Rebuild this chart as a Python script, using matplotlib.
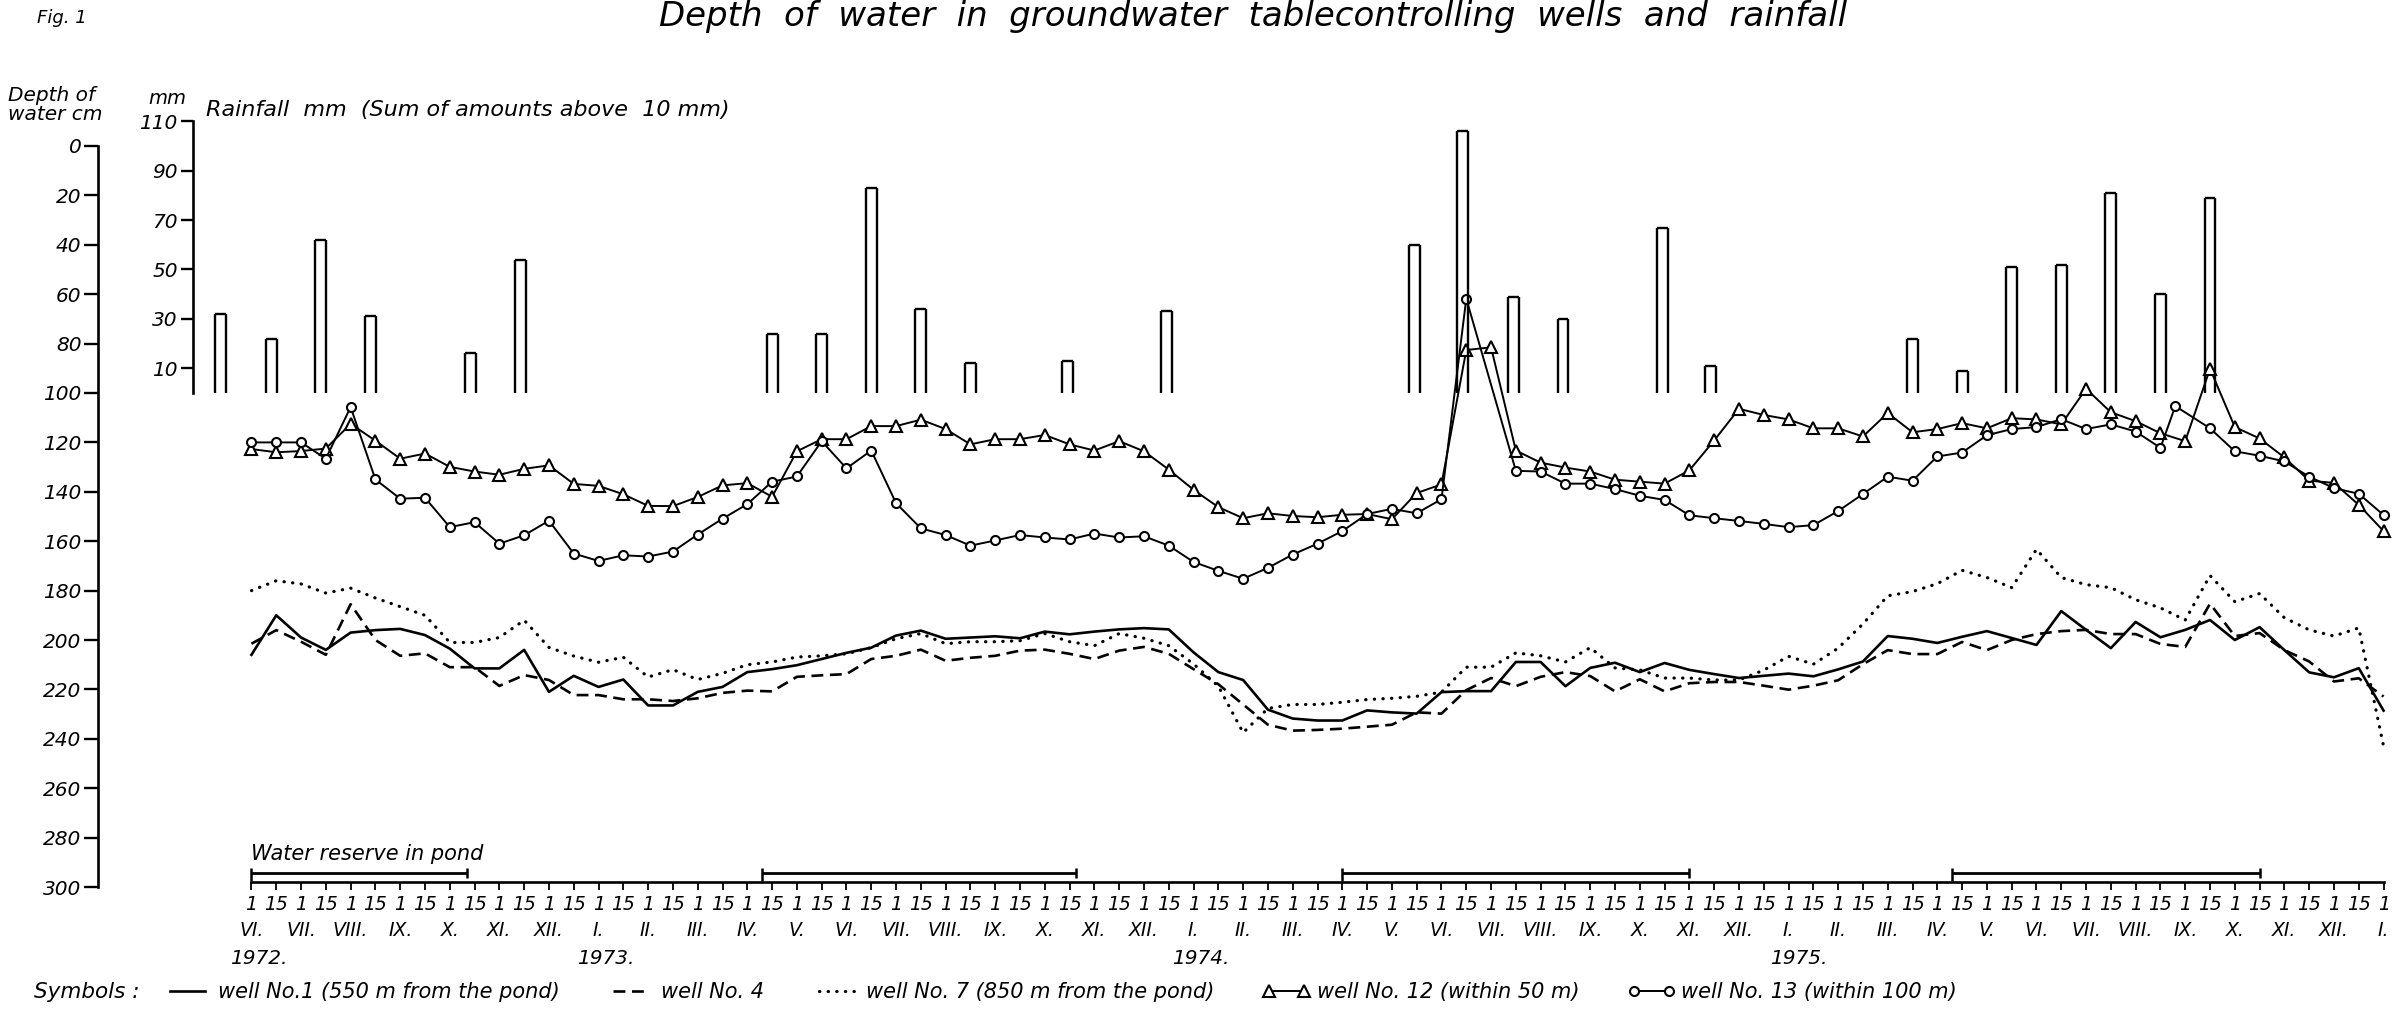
import matplotlib
matplotlib.use('Agg')
import matplotlib.pyplot as plt
import numpy as np

# x axis: half-month steps, 0 = 1 VI 1972 ... 86 = 1 I 1976
half_months = list(range(87))
tick_days = ['1', '15'] * 43 + ['1']
month_names = ['VI.', 'VII.', 'VIII.', 'IX.', 'X.', 'XI.', 'XII.',
               'I.', 'II.', 'III.', 'IV.', 'V.', 'VI.', 'VII.', 'VIII.', 'IX.', 'X.', 'XI.', 'XII.',
               'I.', 'II.', 'III.', 'IV.', 'V.', 'VI.', 'VII.', 'VIII.', 'IX.', 'X.', 'XI.', 'XII.',
               'I.', 'II.', 'III.', 'IV.', 'V.', 'VI.', 'VII.', 'VIII.', 'IX.', 'X.', 'XI.', 'XII.',
               'I.']
years = ['1972.', '1973.', '1974.', '1975.']
year_pos = [0.3, 14.3, 38.3, 62.4]

# rainfall bars (mm)
rain_t = [-1.25, 0.8, 2.8, 4.8, 8.85, 10.85, 21.0, 23.0, 25.0, 27.0, 29.0, 32.9, 36.9,
          46.9, 48.85, 50.9, 52.9, 56.9, 58.85, 67.0, 69.0, 71.0, 73.0, 75.0, 77.0, 79.0]
rain_mm = [32, 22, 62, 31, 16, 54, 24, 24, 83, 34, 12, 13, 33,
           60, 106, 39, 30, 67, 11, 22, 9, 51, 52, 81, 40, 79]

# water reserve in pond (start, end)
pond_start = [0, 20.6, 44, 68.6]
pond_end = [8.7, 33.25, 58, 81]

# depth of water (cm)
well1 = [206, 190, 199, 204, 197, 196, 195.5, 198, 203.5, 211.5, 211.5, 204, 221, 214.5, 219, 216,
         226.5, 226.5, 221, 219, 213, 211.8, 210.2, 207.7, 205.2, 203.1, 198.2, 196.2, 199.5, 199,
         198.5, 199.3, 196.6, 197.7, 196.6, 195.7, 195.2, 195.7, 205, 213, 216.2, 228.2, 231.8,
         232.6, 232.6, 228.5, 229.3, 229.8, 221.1, 220.7, 220.7, 208.9, 208.9, 218.7, 211.3, 209.2,
         213, 209.3, 212.1, 213.8, 215.4, 214.5, 213.6, 214.7, 211.9, 208.7, 198.4, 199.5, 201.2,
         198.7, 196.4, 199.2, 202, 188.3, 195.9, 203.3, 192.7, 198.9, 195.9, 191.9, 200, 194.8,
         204.1, 213.1, 215.1, 211.4, 228.6]
well4 = [201.5, 196, 200.7, 206, 185.5, 200, 206.4, 205.4, 211, 211, 218.6, 214.2, 216.2, 222.3,
         222.3, 224, 224, 224.7, 223.6, 221.4, 220.5, 220.8, 214.9, 214.3, 213.8, 207.7, 206.4,
         203.9, 208.4, 207.2, 206.4, 204.3, 203.9, 205.6, 207.7, 204.3, 202.8, 205.6, 211.8, 217.9,
         226.1, 234.3, 236.7, 236.4, 235.9, 235.1, 234.3, 229.3, 229.8, 220.3, 215.4, 218.7, 214.9,
         213, 214.6, 220.8, 215.9, 220.8, 217.5, 217, 217, 218.5, 220.1, 218.5, 216.3, 209.8, 204.1,
         205.7, 205.7, 200.8, 204.1, 200, 197.6, 196.4, 195.9, 197.6, 197.6, 201.6, 202.8, 185.3,
         198.4, 197.2, 204.1, 208.7, 216.8, 215.5, 222.9]
well7 = [180, 176, 177.3, 181, 179, 183, 186.5, 190, 201, 201, 199, 192, 203, 206.5, 209, 207, 215,
         212, 216, 213.5, 210, 208.9, 206.9, 206.4, 205.6, 203.1, 199.5, 197.4, 201.5, 200.7, 200.7,
         200.3, 197.4, 200.7, 202.3, 197.4, 199.3, 202.3, 209.7, 218.7, 237.5, 227.7, 226.1, 226.1,
         225.2, 224.1, 223.6, 222.8, 221.1, 211, 211, 205.2, 206.4, 208.9, 203.1, 211.3, 212.1,
         215.4, 215.4, 216.2, 216.2, 212.2, 206.6, 209.8, 203.3, 193.5, 182.1, 180.4, 177.2, 171.8,
         174.7, 178.8, 163.3, 174.7, 177.6, 178.8, 183.7, 187, 191.9, 173.9, 184.5, 181.2, 191,
         195.9, 198.4, 195.1, 243]
well12 = [122.7, 124, 123.5, 122.5, 112.5, 119.3, 126.6, 124.5, 129.9, 131.8, 133.1, 130.7, 129.3,
          136.8, 137.6, 141, 145.7, 145.8, 142.1, 137.4, 136.5, 142, 123.6, 118.7, 118.7, 113.4,
          113.4, 110.8, 114.6, 120.8, 118.7, 118.7, 117, 120.8, 123.3, 119.5, 123.6, 131, 139.2,
          146.2, 150.7, 148.7, 149.8, 150.3, 149.3, 149, 151.1, 140.5, 137, 82.6, 81.5, 123.3, 128.2,
          130.2, 131.8, 135.1, 135.9, 136.7, 131.3, 119.2, 106.4, 108.9, 110.7, 114.3, 114.3, 117.6,
          108.1, 115.9, 114.6, 112.2, 114.3, 110.2, 110.7, 112.7, 98.3, 107.8, 111.4, 116.3, 119.5,
          90.2, 113.8, 118.4, 126.1, 135.5, 136.4, 145.3, 155.9]
well13_t = list(range(50)) + list(range(51, 78)) + [77.6] + list(range(79, 87))
well13 = [120, 120, 120, 126.6, 105.7, 135, 142.8, 142.4, 154.3, 152.3, 161, 157.6, 151.7, 165, 168,
          165.7, 166.2, 164.2, 157.3, 150.9, 145, 135.9, 133.8, 119.5, 130.5, 123.3, 144.6, 154.8,
          157.5, 161.8, 159.7, 157.5, 158.5, 159.3, 156.9, 158.5, 158, 161.8, 168.4, 172, 175.2,
          170.8, 165.4, 161, 155.9, 149, 146.9, 148.7, 143, 61.8,
          131.5, 131.8, 136.7, 136.7, 138.9, 141.6, 143.3, 149.5, 150.7, 151.8, 153, 154.3, 153.5,
          147.8, 140.9, 133.9, 135.5, 125.7, 124.1, 117.1, 114.6, 113.8, 110.6, 114.6, 112.7, 115.6,
          122.2, 105.3, 114.3, 123.6, 125.4, 127.7, 133.9, 138.5, 140.8, 149.4]

plt.rcParams['font.family'] = ['DejaVu Sans']
plt.rcParams['font.style'] = 'italic'

W, H = 2392, 1021
fig = plt.figure(figsize=(W / 100, H / 100), dpi=100)
ax = fig.add_axes([98 / W, 0.13124, 1 - 98 / W, 0.74996])
ax.set_xlim(-6.19, 86.34)
ax.set_ylim(300, -10)

ax.plot(half_months, well1, '-', color='black', lw=1.9, label='well No.1 (550 m from the pond)')
ax.plot(half_months, well4, color='black', lw=1.9, dashes=(4.5, 2.5), label='well No. 4')
ax.plot(half_months, well7, color='black', lw=2.3, linestyle=(0, (0.1, 2.6)),
        dash_capstyle='round', label='well No. 7 (850 m from the pond)')
ax.plot(half_months, well12, '-', color='black', lw=1.4, marker='^', ms=8, mfc='white',
        mec='black', mew=1.5, label='well No. 12 (within 50 m)')
ax.plot(well13_t, well13, '-', color='black', lw=1.4, marker='o', ms=6.5, mfc='white',
        mec='black', mew=1.5, label='well No. 13 (within 100 m)')

# pond brackets
n_pond = len(pond_start)
ax.hlines([294.5] * n_pond, pond_start, pond_end, color='black', lw=2)
ax.vlines(pond_start, [292.5] * n_pond, [297.5] * n_pond, color='black', lw=1.8)
ax.vlines(pond_end, [292.5] * n_pond, [296.5] * n_pond, color='black', lw=1.8)
ax.text(0, 286.5, 'Water reserve in pond', fontsize=15, va='center', ha='left')

# axes styling
for s in ['top', 'right']:
    ax.spines[s].set_visible(False)
ax.spines['left'].set_bounds(0, 300)
ax.spines['left'].set_linewidth(1.9)
ax.spines['bottom'].set_position(('data', 298))
ax.spines['bottom'].set_bounds(0, 86)
ax.spines['bottom'].set_linewidth(1.9)
ax.set_yticks(range(0, 301, 20))
ax.tick_params(axis='y', direction='out', length=10, width=1.7, labelsize=14.5, pad=2)
ax.set_xticks(half_months)
ax.set_xticklabels(tick_days)
ax.tick_params(axis='x', direction='out', length=6, width=1.3, labelsize=13.5, pad=3)

for i, m in enumerate(month_names):
    ax.text(2 * i, 317.5, m, ha='center', va='center', fontsize=13.5, clip_on=False)
for p, y in zip(year_pos, years):
    ax.text(p, 329, y, ha='center', va='center', fontsize=14.5, clip_on=False)

# rainfall axis
rax = ax.twinx()
rax.set_ylim(-200, 110)
for s in ['right', 'top', 'bottom']:
    rax.spines[s].set_visible(False)
rax.spines['left'].set_visible(True)
rax.spines['left'].set_position(('data', -2.36))
rax.spines['left'].set_bounds(0, 110)
rax.spines['left'].set_linewidth(1.9)
rax.yaxis.set_ticks_position('left')
rax.yaxis.set_label_position('left')
rax.set_yticks([10, 30, 50, 70, 90, 110])
rax.tick_params(axis='y', direction='out', length=9, width=1.7, labelsize=14.5, pad=2)

bw = 0.44
rt = np.array(rain_t)
rm = np.array(rain_mm)
zero = np.zeros_like(rm)
rax.vlines(rt - bw / 2, zero, rm, color='black', lw=1.7)
rax.vlines(rt + bw / 2, zero, rm, color='black', lw=1.7)
rax.hlines(rm, rt - bw / 2, rt + bw / 2, color='black', lw=1.7)

# texts
fig.text(37 / W, 1 - 18 / H, 'Fig. 1', fontsize=13, va='center')
fig.text(1253 / W, 1 - 26 / H, 'Depth  of  water  in  groundwater  tablecontrolling  wells  and  rainfall',
         ha='center', va='baseline', fontsize=24.5)
fig.text(8 / W, 1 - 105 / H, 'Depth of\nwater cm', va='center', ha='left', fontsize=14.5, linespacing=1.05)
fig.text(148 / W, 1 - 98 / H, 'mm', va='center', fontsize=14)
fig.text(206 / W, 1 - 110 / H, 'Rainfall  mm  (Sum of amounts above  10 mm)', va='center', fontsize=16)

fig.text(34 / W, 1 - 992 / H, 'Symbols :', va='center', fontsize=15.5)
handles, labels = ax.get_legend_handles_labels()
fig.legend(handles, labels, loc='center left', bbox_to_anchor=(155 / W, 1 - 992 / H), ncol=5,
           frameon=False, fontsize=15, handlelength=2.3, handletextpad=0.3, columnspacing=2.3,
           numpoints=2, borderaxespad=0)

fig.savefig('out.png', dpi=100)
